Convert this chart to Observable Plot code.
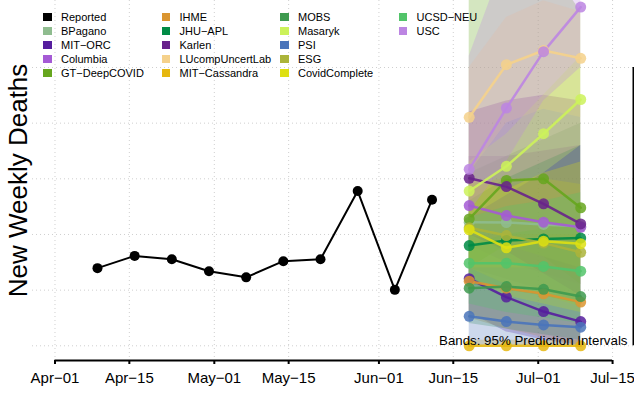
<!DOCTYPE html>
<html><head><meta charset="utf-8">
<script src="https://cdn.jsdelivr.net/npm/d3@7"></script>
<script src="https://cdn.jsdelivr.net/npm/@observablehq/plot@0.6"></script>
<style>
body{margin:0;background:#fff;font-family:"Liberation Sans",Arial,sans-serif;}
#wrap{position:relative;width:634px;height:397px;}
#legend{position:absolute;left:43px;top:9.5px;display:grid;grid-auto-flow:column;grid-template-rows:repeat(5,14px);grid-template-columns:repeat(4,118.5px);font-size:11px;color:#000;}
.item{display:flex;align-items:center;height:14px;white-space:nowrap;}
.sw{width:8.5px;height:8px;margin-right:9.5px;flex:none;}
</style></head><body><div id="wrap"></div>
<script>
const day = (m, d) => new Date(Date.UTC(2020, m - 1, d));

// Reported series
const reportedDates = [day(4,9), day(4,16), day(4,23), day(4,30), day(5,7), day(5,14), day(5,21), day(5,28), day(6,4), day(6,11)];
const reportedValues = [27.9, 32.3, 31.1, 26.8, 24.6, 30.4, 31.1, 55.6, 20.1, 52.5];

// Forecast targets
const forecastDates = [day(6,18), day(6,25), day(7,2), day(7,9)];
const models = ["BPagano","MIT-ORC","Columbia","GT-DeepCOVID","IHME","JHU-APL","Karlen","LUcompUncertLab","MIT-Cassandra","MOBS","Masaryk","PSI","ESG","CovidComplete","UCSD-NEU","USC"];
const modelColors = ["#8FBC8F","#561E9E","#A55AD5","#66A61E","#DA9530","#008B45","#68228B","#F5D18B","#E6B70F","#3E9A4F","#CCF25A","#4A74BA","#ABB43A","#DEE012","#52C46A","#BC85E2"];
const pointForecasts = [
  [44.4, 44.3, 43.6, 42.9],
  [24.1, 17.5, 12.3, 8.7],
  [50.4, 46.8, 44.4, 42.6],
  [45.6, 59.4, 60.0, 49.6],
  [23.2, 20.7, 18.7, 15.7],
  [36.0, 37.8, 38.4, 38.7],
  [60.2, 57.2, 51.0, 43.8],
  [82.1, 101.0, 106.1, 103.3],
  [0, 0, 0, 0],
  [20.7, 21.3, 20.3, 17.7],
  [55.6, 64.5, 76.2, 88.5],
  [10.6, 8.7, 7.5, 6.7],
  [42.4, 39.6, 36.9, 33.6],
  [41.7, 35.2, 37.6, 36.7],
  [29.7, 29.7, 28.5, 26.8],
  [63.4, 85.4, 105.7, 121.7]
];
const lower95 = [
  [28, 24, 20, 16],
  [12, 5, 2, 0],
  [36, 30, 26, 22],
  [28, 36, 32, 22],
  [10, 6, 3, 0],
  [22, 20, 18, 15],
  [40, 34, 26, 18],
  [62, 80, 85, 82],
  [0, 0, 0, 0],
  [8, 6, 4, 2],
  [46, 54, 62, 72],
  [0, 0, 0, 0],
  [28, 22, 18, 14],
  [25, 18, 15, 12],
  [15, 12, 10, 8],
  [48, 66, 88, 100]
];
const upper95 = [
  [62, 68, 74, 80],
  [40, 36, 32, 28],
  [68, 68, 70, 72],
  [200, 160, 140, 120],
  [40, 40, 40, 40],
  [52, 60, 66, 72],
  [84, 88, 90, 88],
  [100, 118, 124, 120],
  [2, 2, 2, 2],
  [36, 40, 42, 44],
  [66, 76, 90, 104],
  [28, 28, 28, 28],
  [58, 60, 60, 58],
  [60, 56, 62, 66],
  [46, 50, 52, 55],
  [104, 140, 190, 240]
];

// Axes
const tickDates = [day(4,1), day(4,15), day(5,1), day(5,15), day(6,1), day(6,15), day(7,1), day(7,15)];
const tickLabels = ["Apr\u221201","Apr\u221215","May\u221201","May\u221215","Jun\u221201","Jun\u221215","Jul\u221201","Jul\u221215"];
const gridValues = [0, 20, 40, 60, 80, 100];
const yTitle = "New Weekly Deaths";
const bandNote = "Bands: 95% Prediction Intervals";

// Build tables
const reported = reportedDates.map((d, i) => ({date: d, value: reportedValues[i]}));
const fc = [];
models.forEach((m, k) => forecastDates.forEach((d, i) => fc.push({model: m, date: d, value: pointForecasts[k][i], lo: lower95[k][i], hi: upper95[k][i]})));

const DAY = 864e5;
const x0 = day(4,1).getTime();
const xDomain = [new Date(x0 - 4.237 * DAY), new Date(x0 + 108.94 * DAY)];
const yDomain = [-5.28, 124.07];
const pxPerUnit = 360 / (yDomain[1] - yDomain[0]);

const grid = {stroke: "#cfcfcf", strokeDasharray: "1,3", strokeWidth: 1};

const chart = Plot.plot({
  width: 634, height: 397,
  marginLeft: 32, marginRight: 1, marginTop: 0, marginBottom: 37,
  style: {fontFamily: "Liberation Sans, Arial, sans-serif", background: "#fff", overflow: "visible"},
  x: {type: "utc", domain: xDomain, axis: null},
  y: {domain: yDomain, axis: null},
  color: {domain: models, range: modelColors},
  marks: [
    Plot.ruleY(gridValues, grid),
    Plot.ruleX(tickDates, grid),
    Plot.areaY(fc, {x: "date", y1: "lo", y2: "hi", z: "model", fill: "model", fillOpacity: 0.28, clip: true}),
    Plot.line(reported, {x: "date", y: "value", stroke: "#000", strokeWidth: 2}),
    Plot.dot(reported, {x: "date", y: "value", r: 5, fill: "#000"}),
    Plot.line(fc, {x: "date", y: "value", z: "model", stroke: "model", strokeWidth: 2.5, strokeOpacity: 0.9, clip: true}),
    Plot.dot(fc, {x: "date", y: "value", fill: "model", r: 5.5, fillOpacity: 0.85, clip: true}),
    // bottom axis
    Plot.ruleY([yDomain[0]], {x1: tickDates[0], x2: tickDates[tickDates.length - 1], stroke: "#000", strokeWidth: 2}),
    Plot.ruleX(tickDates, {y1: yDomain[0], y2: yDomain[0] - 4 / pxPerUnit, stroke: "#000", strokeWidth: 2}),
    Plot.text(tickDates, {x: d => d, frameAnchor: "bottom", dy: 22, text: (d, i) => tickLabels[i], fontSize: 15, fill: "#000"}),
    // right axis line
    Plot.ruleX([xDomain[1]], {y1: gridValues[0], y2: gridValues[gridValues.length - 1], stroke: "#000", strokeWidth: 2}),
    // y title
    Plot.text([yTitle], {frameAnchor: "left", dx: -14, rotate: -90, textAnchor: "middle", fontSize: 26, fill: "#000"}),
    // band note
    Plot.text([bandNote], {frameAnchor: "bottom-right", dx: -6, dy: -16, textAnchor: "end", fontSize: 13.3, fill: "#000"})
  ]
});

const wrap = document.getElementById("wrap");
wrap.appendChild(chart);

const legend = document.createElement("div");
legend.id = "legend";
const legendNames = ["Reported", ...models];
const legendColors = ["#000000", ...modelColors];
legendNames.forEach((n, i) => {
  const it = document.createElement("div");
  it.className = "item";
  const sw = document.createElement("span");
  sw.className = "sw";
  sw.style.background = legendColors[i];
  const tx = document.createElement("span");
  tx.textContent = n.replace(/-/g, "\u2212");
  it.appendChild(sw); it.appendChild(tx);
  legend.appendChild(it);
});
wrap.appendChild(legend);
</script>
</body></html>
